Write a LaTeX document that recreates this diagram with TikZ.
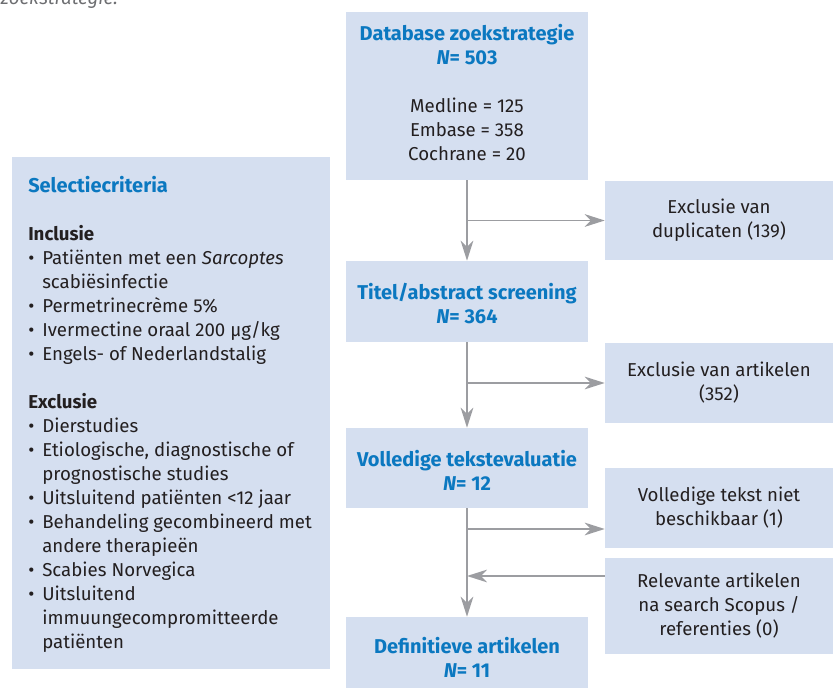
\documentclass[tikz,border=0pt]{standalone}
\usepackage{fontspec}
\setmainfont{Fira Sans}
\usetikzlibrary{arrows.meta,positioning}
\definecolor{boxblue}{HTML}{D5DFF0}
\definecolor{headblue}{HTML}{0B78C0}
\definecolor{txtdark}{HTML}{231F20}
\definecolor{linegray}{HTML}{9C9DA1}
\definecolor{captgray}{HTML}{6D6E71}
\newcommand{\hd}[1]{{\fontsize{15}{18}\selectfont\bfseries\color{headblue}#1}}
\newcommand{\bul}{\makebox[10.5pt][l]{•}}
\newcommand{\hng}{\hspace*{10.5pt}}

\begin{document}
\begin{tikzpicture}[x=0.75pt,y=-0.75pt,
    flowbox/.style={fill=boxblue, inner sep=0pt, align=center, text=txtdark,
      font=\fontsize{14}{18}\selectfont},
    mainbox/.style={flowbox, minimum width=181.5pt},
    sidebox/.style={flowbox, minimum width=171pt},
    flowarrow/.style={draw=linegray, line width=1.4pt,
      -{Stealth[length=15pt,width=9.5pt,inset=4.5pt]}}]
  \useasboundingbox (0,0) rectangle (833,688);

  % caption fragment, cut off at the top
  \node[anchor=base east, inner sep=0pt, text=captgray,
    font=\fontsize{14}{18}\selectfont\itshape] (capt) at (118,5) {zoekstrategie.};

  % selection criteria
  \node[fill=boxblue, minimum width=238.5pt, minimum height=384pt] (crit) at (171,413) {};
  \node[anchor=north west, inner sep=0pt, align=left, text=txtdark,
    font=\fontsize{14}{18}\selectfont] (critTxt) at (28,173.3) {%
    \rule{0pt}{14pt}\hd{Selectiecriteria}\\[18pt]
    \textbf{Inclusie}\\
    \bul Patiënten met een \textit{Sarcoptes}\\
    \hng scabiësinfectie\\
    \bul Permetrinecrème 5\%\\
    \bul Ivermectine oraal 200 µg/kg\\
    \bul Engels- of Nederlandstalig\\[18pt]
    \textbf{Exclusie}\\
    \bul Dierstudies\\
    \bul Etiologische, diagnostische of\\
    \hng prognostische studies\\
    \bul Uitsluitend patiënten <12 jaar\\
    \bul Behandeling gecombineerd met\\
    \hng andere therapieën\\
    \bul Scabies Norvegica\\
    \bul Uitsluitend\\
    \hng immuungecompromitteerde\\
    \hng patiënten};

  % main column
  \node[mainbox, minimum height=126pt] (db) at (467,96)
    {\hd{Database zoekstrategie}\\ \hd{\textit{N}= 503}\\[18pt]
     Medline = 125\\ Embase = 358\\ Cochrane = 20\rule[-5pt]{0pt}{5pt}};
  \node[mainbox, minimum height=60.75pt] (titel) at (467,301.5)
    {\rule{0pt}{16pt}\hd{Titel/abstract screening}\\ \hd{\textit{N}= 364}};
  \node[mainbox, minimum height=60pt] (vol) at (467,468)
    {\rule{0pt}{16pt}\hd{Volledige tekstevaluatie}\\ \hd{\textit{N}= 12}};
  \node[mainbox, minimum height=60.75pt] (def) at (467,657.5)
    {\hd{Definitieve artikelen}\\ \hd{\textit{N}= 11}};

  % side boxes
  \node[sidebox, minimum height=59.25pt] (dup) at (719,220.5)
    {Exclusie van\\ duplicaten (139)};
  \node[sidebox, minimum height=60pt] (art) at (719,383)
    {Exclusie van artikelen\\ (352)};
  \node[sidebox, minimum height=60pt] (niet) at (719,508)
    {Volledige tekst niet\\ beschikbaar (1)};
  \node[sidebox, minimum height=72pt] (rel) at (719,606)
    {Relevante artikelen\\ na search Scopus /\\ referenties (0)};

  % arrows
  \coordinate (c3) at (467,529);
  \coordinate (c4) at (467,576);
  \draw[flowarrow] (db) -- (titel);
  \draw[flowarrow] (db.south |- dup.west) -- (dup.west);
  \draw[flowarrow] (titel) -- (vol);
  \draw[flowarrow] (titel.south |- art.west) -- (art.west);
  \draw[flowarrow] (vol) -- (def);
  \draw[flowarrow] (c3) -- (c3 -| niet.west);
  \draw[flowarrow] (c4 -| rel.west) -- (c4);
\end{tikzpicture}
\end{document}
